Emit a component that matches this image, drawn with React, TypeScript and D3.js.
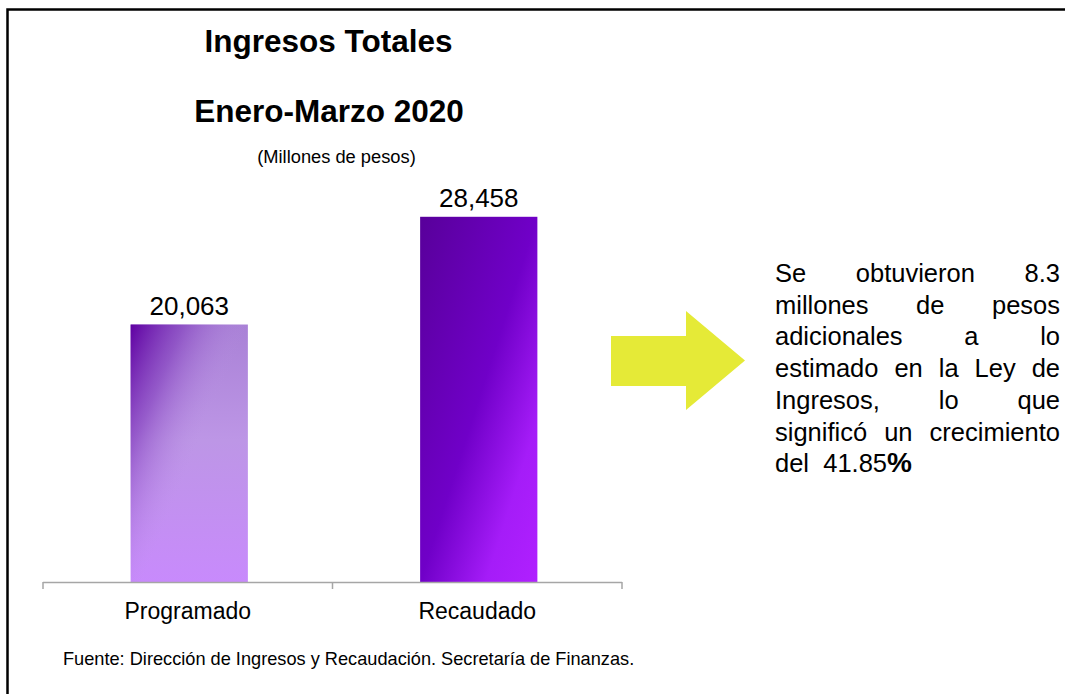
import React, { useEffect, useRef } from 'react';
import * as d3 from 'd3';

// chart data
const categories = ['Programado', 'Recaudado'];
const values = [20063, 28458];
const titleLines = ['Ingresos Totales', 'Enero-Marzo 2020'];
const subtitle = '(Millones de pesos)';
const source = 'Fuente: Dirección de Ingresos y Recaudación. Secretaría de Finanzas.';
const noteLines = [
  'Se obtuvieron 8.3',
  'millones de pesos',
  'adicionales a lo',
  'estimado en la Ley de',
  'Ingresos, lo que',
  'significó un crecimiento',
];
const noteLastLine = 'del 41.85';

const FONT = '"Liberation Sans", Arial, Helvetica, sans-serif';

export default function App() {
  const svgRef = useRef<SVGSVGElement>(null);

  useEffect(() => {
    const svg = d3.select(svgRef.current);
    svg.selectAll('*').remove();

    const width = 1065;
    const height = 694;

    // gradients for the bars
    const defs = svg.append('defs');
    const g1 = defs.append('linearGradient').attr('id', 'progBase')
      .attr('x1', 0).attr('y1', 0).attr('x2', 0).attr('y2', 1);
    g1.append('stop').attr('offset', 0).attr('stop-color', '#a981d6');
    g1.append('stop').attr('offset', 0.45).attr('stop-color', '#bd96e6');
    g1.append('stop').attr('offset', 1).attr('stop-color', '#c88afc');

    const g2 = defs.append('linearGradient').attr('id', 'progShade')
      .attr('x1', 0).attr('y1', 0).attr('x2', 0.55).attr('y2', 0.5);
    g2.append('stop').attr('offset', 0).attr('stop-color', '#5f00a2').attr('stop-opacity', 1);
    g2.append('stop').attr('offset', 0.45).attr('stop-color', '#7a30b8').attr('stop-opacity', 0.55);
    g2.append('stop').attr('offset', 1).attr('stop-color', '#bd96e6').attr('stop-opacity', 0);

    const g3 = defs.append('linearGradient').attr('id', 'recaud')
      .attr('x1', 0).attr('y1', 0).attr('x2', 1).attr('y2', 1);
    g3.append('stop').attr('offset', 0).attr('stop-color', '#58009a');
    g3.append('stop').attr('offset', 0.5).attr('stop-color', '#7000c8');
    g3.append('stop').attr('offset', 0.78).attr('stop-color', '#a51cf8');
    g3.append('stop').attr('offset', 1).attr('stop-color', '#b020ff');

    svg.append('rect').attr('width', width).attr('height', height).attr('fill', '#fff');

    // frame (only top and left are in view)
    svg.append('path')
      .attr('d', 'M7.5,' + height + ' L7.5,9.5 L' + width + ',9.5')
      .attr('fill', 'none')
      .attr('stroke', '#000')
      .attr('stroke-width', 2.5);

    // titles
    svg.append('text')
      .attr('x', 328.5).attr('y', 52)
      .attr('text-anchor', 'middle')
      .attr('font-family', FONT).attr('font-weight', 'bold').attr('font-size', 31.5)
      .text(titleLines[0]);
    svg.append('text')
      .attr('x', 329).attr('y', 122)
      .attr('text-anchor', 'middle')
      .attr('font-family', FONT).attr('font-weight', 'bold').attr('font-size', 31.5)
      .text(titleLines[1]);
    svg.append('text')
      .attr('x', 336.5).attr('y', 163)
      .attr('text-anchor', 'middle')
      .attr('font-family', FONT).attr('font-size', 18.3)
      .text(subtitle);

    // scales
    const x = d3.scaleBand().domain(categories).range([43, 622]).padding(0);
    const y = d3.scaleLinear().domain([0, 30000]).range([582, 197]);
    const barW = x.bandwidth() * 0.405;

    const chart = svg.append('g');
    categories.forEach((c, i) => {
      const bx = (x(c) as number) + x.bandwidth() / 2 - barW / 2 + 1.5;
      const by = y(values[i]);
      const bh = y(0) - by;
      if (i === 0) {
        chart.append('rect').attr('x', bx).attr('y', by).attr('width', barW).attr('height', bh)
          .attr('fill', 'url(#progBase)');
        chart.append('rect').attr('x', bx).attr('y', by).attr('width', barW).attr('height', bh)
          .attr('fill', 'url(#progShade)');
      } else {
        chart.append('rect').attr('x', bx).attr('y', by).attr('width', barW).attr('height', bh)
          .attr('fill', 'url(#recaud)');
      }
      chart.append('text')
        .attr('x', bx + barW / 2).attr('y', by - 10)
        .attr('text-anchor', 'middle')
        .attr('font-family', FONT).attr('font-size', 26)
        .text(d3.format(',')(values[i]));
    });

    // x axis
    const axis = svg.append('g');
    axis.append('line')
      .attr('x1', 43).attr('x2', 622).attr('y1', 582.5).attr('y2', 582.5)
      .attr('stroke', '#a6a6a6').attr('stroke-width', 1.5);
    const tickXs = [43, (x(categories[1]) as number), 622];
    tickXs.forEach(tx => {
      axis.append('line')
        .attr('x1', tx).attr('x2', tx).attr('y1', 582).attr('y2', 589)
        .attr('stroke', '#a6a6a6').attr('stroke-width', 1.5);
    });
    categories.forEach(c => {
      axis.append('text')
        .attr('x', (x(c) as number) + x.bandwidth() / 2).attr('y', 619)
        .attr('text-anchor', 'middle')
        .attr('font-family', FONT).attr('font-size', 23)
        .text(c);
    });

    // source
    svg.append('text')
      .attr('x', 63).attr('y', 665)
      .attr('font-family', FONT).attr('font-size', 18.2)
      .text(source);

    // arrow
    svg.append('path')
      .attr('d', 'M611,336 L686,336 L686,311 L745,360.5 L686,410 L686,386 L611,386 Z')
      .attr('fill', '#e5ea37');

    // justified note
    const left = 775, right = 1060, top = 282, lh = 31.7, fs = 25.5;
    const note = svg.append('g').attr('font-family', FONT).attr('font-size', fs);
    noteLines.forEach((line, li) => {
      const words = line.split(' ');
      const nodes = words.map(w => note.append('text').attr('y', top + li * lh).text(w));
      const widths = nodes.map(n => (n.node() as SVGTextElement).getComputedTextLength());
      const total = d3.sum(widths);
      const gap = (right - left - total) / (words.length - 1);
      let cx = left;
      nodes.forEach((n, k) => {
        n.attr('x', cx);
        cx += widths[k] + gap;
      });
    });
    const last = note.append('text')
      .attr('x', left).attr('y', top + noteLines.length * lh)
      .attr('xml:space', 'preserve')
      .text(noteLastLine.replace(' ', '  '));
    last.append('tspan').attr('font-weight', 'bold').attr('font-size', 28).text('%');
  }, []);

  return (
    <svg
      ref={svgRef}
      width={1065}
      height={694}
      style={{ position: 'absolute', left: 0, top: 0, display: 'block' }}
    />
  );
}
